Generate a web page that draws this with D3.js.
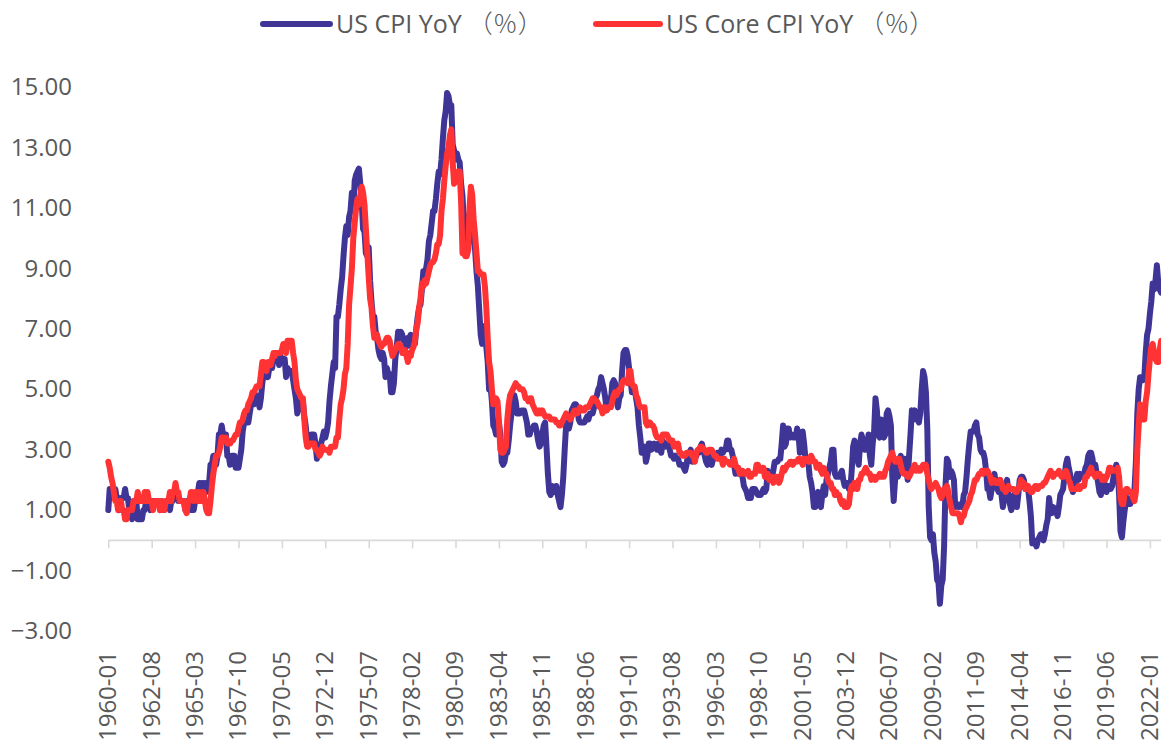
<!DOCTYPE html>
<html>
<head>
<meta charset="utf-8">
<script src="https://cdn.jsdelivr.net/npm/d3@7"></script>
<style>
  html, body { margin: 0; padding: 0; background: #ffffff; }
  svg { display: block; }
  text { font-family: "Open Sans", "Noto Sans", "Noto Sans CJK SC", sans-serif; fill: #595959; }
</style>
</head>
<body>
<svg id="chart" width="1161" height="746"></svg>
<script>
// Monthly series, January 1960 onward (year-over-year change, %)
const startYear = 1960;

const cpiYoY = [
  1.0,1.7,1.7,1.7,1.7,1.7,1.4,1.4,1.0,1.4,1.4,1.4,          // 1960
  1.7,1.4,1.4,1.0,1.0,0.7,1.3,1.0,1.3,0.7,0.7,0.7,          // 1961
  0.7,1.0,1.0,1.3,1.3,1.3,1.0,1.3,1.3,1.3,1.3,1.3,          // 1962
  1.3,1.0,1.3,1.0,1.0,1.3,1.3,1.3,1.0,1.3,1.3,1.6,          // 1963
  1.6,1.6,1.3,1.3,1.3,1.3,1.3,1.0,1.3,1.0,1.3,1.0,          // 1964
  1.0,1.0,1.3,1.6,1.6,1.9,1.6,1.9,1.6,1.9,1.6,1.9,          // 1965
  1.9,2.5,2.5,2.8,2.8,2.5,2.8,3.5,3.5,3.8,3.5,3.5,          // 1966
  3.5,2.8,2.8,2.5,2.8,2.8,2.8,2.4,2.7,2.4,2.7,3.0,          // 1967
  3.6,3.9,3.9,3.9,3.9,4.2,4.5,4.5,4.5,4.8,4.8,4.7,          // 1968
  4.4,4.7,5.2,5.5,5.5,5.5,5.4,5.7,5.7,5.7,6.0,6.2,          // 1969
  6.2,6.1,5.8,6.1,6.0,6.0,6.0,5.4,5.7,5.6,5.6,5.6,          // 1970
  5.3,5.0,4.7,4.2,4.4,4.6,4.4,4.6,4.1,3.8,3.3,3.3,          // 1971
  3.3,3.5,3.5,3.5,3.2,2.7,2.9,2.9,3.2,3.4,3.6,3.4,          // 1972
  3.6,3.9,4.6,5.1,5.5,5.9,5.7,7.4,7.4,7.8,8.3,8.7,          // 1973
  9.4,10.0,10.4,10.1,10.7,10.9,11.5,10.9,11.9,12.1,12.2,12.3, // 1974
  11.8,11.2,10.3,10.2,9.5,9.4,9.7,8.6,7.9,7.4,7.4,6.9,      // 1975
  6.7,6.3,6.1,6.0,6.2,6.0,5.4,5.7,5.5,5.5,4.9,4.9,          // 1976
  5.2,6.0,6.4,6.9,6.7,6.9,6.8,6.6,6.6,6.4,6.7,6.7,          // 1977
  6.8,6.4,6.6,6.5,7.0,7.4,7.7,7.8,8.3,8.9,8.9,9.0,          // 1978
  9.3,9.9,10.1,10.5,10.9,10.9,11.3,11.8,12.2,12.1,12.6,13.3, // 1979
  13.9,14.2,14.8,14.7,14.4,14.4,13.1,12.9,12.6,12.8,12.6,12.5, // 1980
  11.8,11.4,10.5,10.0,9.8,9.6,10.8,10.8,11.0,10.1,9.6,8.9,  // 1981
  8.4,7.6,6.8,6.5,6.7,7.1,6.4,5.9,5.0,5.1,4.6,3.8,          // 1982
  3.7,3.5,3.6,3.9,3.5,2.6,2.5,2.6,2.9,2.9,3.3,3.8,          // 1983
  4.2,4.6,4.8,4.6,4.2,4.2,4.2,4.3,4.3,4.3,4.1,3.9,          // 1984
  3.5,3.5,3.7,3.7,3.8,3.8,3.6,3.3,3.1,3.2,3.5,3.8,          // 1985
  3.9,3.1,2.2,1.6,1.5,1.8,1.6,1.6,1.8,1.5,1.3,1.1,          // 1986
  1.5,2.1,3.0,3.8,3.9,3.7,3.9,4.3,4.4,4.5,4.5,4.4,          // 1987
  4.0,3.9,3.9,3.9,3.9,4.0,4.1,4.0,4.2,4.2,4.2,4.4,          // 1988
  4.7,4.8,5.0,5.1,5.4,5.2,5.0,4.7,4.3,4.5,4.7,4.6,          // 1989
  5.2,5.3,5.2,4.7,4.4,4.7,4.8,5.6,6.2,6.3,6.3,6.1,          // 1990
  5.7,5.3,4.9,4.9,5.0,4.7,4.4,3.8,3.4,2.9,3.0,3.1,          // 1991
  2.6,2.8,3.2,3.2,3.0,3.1,3.2,3.1,3.0,3.2,3.0,2.9,          // 1992
  3.3,3.2,3.1,3.2,3.2,3.0,2.8,2.8,2.7,2.8,2.7,2.7,          // 1993
  2.5,2.5,2.5,2.4,2.3,2.5,2.8,2.9,3.0,2.6,2.7,2.7,          // 1994
  2.8,2.9,2.9,3.1,3.2,3.0,2.8,2.6,2.5,2.8,2.6,2.5,          // 1995
  2.7,2.7,2.8,2.9,2.9,2.8,3.0,2.9,3.0,3.0,3.3,3.3,          // 1996
  3.0,3.0,2.8,2.5,2.2,2.3,2.2,2.2,2.2,2.1,1.8,1.7,          // 1997
  1.6,1.4,1.4,1.4,1.7,1.7,1.7,1.6,1.5,1.5,1.5,1.6,          // 1998
  1.7,1.6,1.7,2.3,2.1,2.0,2.1,2.3,2.6,2.6,2.6,2.7,          // 1999
  2.7,3.2,3.8,3.1,3.2,3.7,3.7,3.4,3.5,3.4,3.4,3.4,          // 2000
  3.7,3.5,2.9,3.3,3.6,3.2,2.7,2.7,2.6,2.1,1.9,1.6,          // 2001
  1.1,1.1,1.5,1.6,1.2,1.1,1.5,1.8,1.5,2.0,2.2,2.4,          // 2002
  2.6,3.0,3.0,2.2,2.1,2.1,2.1,2.2,2.3,2.0,1.8,1.9,          // 2003
  1.9,1.7,1.7,2.3,3.1,3.3,3.0,2.7,2.5,3.2,3.5,3.3,          // 2004
  3.0,3.0,3.1,3.5,2.8,2.5,3.2,3.6,4.7,4.3,3.5,3.4,          // 2005
  4.0,3.6,3.4,3.5,4.2,4.3,4.1,3.8,2.1,1.3,2.0,2.5,          // 2006
  2.1,2.4,2.8,2.6,2.7,2.7,2.4,2.0,2.8,3.5,4.3,4.1,          // 2007
  4.3,4.0,4.0,3.9,4.2,5.0,5.6,5.4,4.9,3.7,1.1,0.1,          // 2008
  0.0,0.2,-0.4,-0.7,-1.3,-1.4,-2.1,-1.5,-1.3,-0.2,1.8,2.7,  // 2009
  2.6,2.1,2.3,2.2,2.0,1.1,1.2,1.1,1.1,1.2,1.1,1.5,          // 2010
  1.6,2.1,2.7,3.2,3.6,3.6,3.6,3.8,3.9,3.5,3.4,3.0,          // 2011
  2.9,2.9,2.7,2.3,1.7,1.7,1.4,1.7,2.0,2.2,1.8,1.7,          // 2012
  1.6,2.0,1.5,1.1,1.4,1.8,2.0,1.5,1.2,1.0,1.2,1.5,          // 2013
  1.6,1.1,1.5,2.0,2.1,2.1,2.0,1.7,1.7,1.7,1.3,0.8,          // 2014
  -0.1,0.0,-0.1,-0.2,0.0,0.1,0.2,0.2,0.0,0.2,0.5,0.7,       // 2015
  1.4,1.0,0.9,1.1,1.0,1.0,0.8,1.1,1.5,1.6,1.7,2.1,          // 2016
  2.5,2.7,2.4,2.2,1.9,1.6,1.7,1.9,2.2,2.0,2.2,2.1,          // 2017
  2.1,2.2,2.4,2.5,2.8,2.9,2.9,2.7,2.3,2.5,2.2,1.9,          // 2018
  1.6,1.5,1.9,2.0,1.8,1.6,1.8,1.7,1.7,1.8,2.1,2.3,          // 2019
  2.5,2.3,1.5,0.3,0.1,0.6,1.0,1.3,1.4,1.2,1.2,1.4,          // 2020
  1.4,1.7,2.6,4.2,5.0,5.4,5.4,5.3,5.4,6.2,6.8,7.0,          // 2021
  7.5,7.9,8.5,8.3,8.6,9.1,8.5,8.3,8.2                       // 2022
];

const coreYoY = [
  2.6,2.4,2.1,1.9,1.6,1.3,1.3,1.0,1.3,1.3,1.0,1.0,          // 1960
  0.7,0.7,1.0,1.0,1.0,1.0,1.3,1.3,1.3,1.6,1.3,1.3,          // 1961
  1.3,1.3,1.6,1.3,1.6,1.3,1.3,1.3,1.0,1.3,1.3,1.3,          // 1962
  1.3,1.0,1.3,1.0,1.0,1.3,1.3,1.3,1.6,1.3,1.6,1.6,          // 1963
  1.9,1.6,1.6,1.3,1.3,1.3,1.3,1.0,0.9,1.3,1.3,1.6,          // 1964
  1.6,1.3,1.6,1.6,1.3,1.6,1.3,1.6,1.6,1.3,1.0,0.9,          // 1965
  0.9,1.3,1.8,2.2,2.5,2.8,2.8,2.9,3.1,3.4,3.4,3.3,          // 1966
  3.4,3.2,3.2,3.2,3.3,3.3,3.4,3.5,3.5,3.7,3.9,3.9,          // 1967
  4.0,4.2,4.3,4.3,4.5,4.6,4.7,4.9,4.9,5.0,5.1,5.1,          // 1968
  5.1,5.5,5.9,5.9,5.8,5.6,5.9,5.9,5.8,6.0,6.2,6.1,          // 1969
  6.2,6.2,6.2,6.2,6.3,6.5,6.5,6.2,6.6,6.6,6.6,6.6,          // 1970
  6.2,5.9,5.3,5.0,4.9,4.8,4.7,4.7,4.0,3.4,3.1,3.1,          // 1971
  3.2,3.2,3.2,3.2,3.0,3.0,2.9,2.8,2.9,3.1,3.0,3.0,          // 1972
  3.0,3.0,2.9,3.1,3.1,3.1,3.1,3.4,3.4,4.0,4.5,4.7,          // 1973
  5.0,5.5,5.7,6.5,7.8,8.4,9.0,10.0,10.5,11.0,11.3,11.1,     // 1974
  11.4,11.7,11.5,11.1,10.3,9.5,8.7,8.0,7.7,7.1,6.7,6.7,     // 1975
  6.8,6.6,6.5,6.4,6.5,6.5,6.6,6.7,6.7,6.6,6.3,6.1,          // 1976
  6.2,6.3,6.4,6.5,6.5,6.4,6.2,6.3,6.3,6.1,5.9,6.2,          // 1977
  6.1,6.3,6.4,6.6,7.0,7.2,7.7,8.0,8.5,8.4,8.6,8.5,          // 1978
  8.7,8.9,9.1,9.2,9.2,9.3,9.5,9.8,9.8,10.1,10.9,11.3,       // 1979
  11.9,12.4,12.8,13.0,13.4,13.6,12.5,11.8,11.9,12.0,12.2,12.2, // 1980
  11.2,9.5,9.5,9.4,9.4,9.6,11.0,11.7,11.4,10.6,10.1,9.5,    // 1981
  8.9,8.9,8.8,8.8,8.8,8.4,7.7,6.7,5.9,5.6,5.0,4.5,          // 1982
  4.7,4.7,4.6,4.0,3.0,2.9,2.9,3.0,3.1,4.0,4.5,4.8,          // 1983
  4.9,5.0,5.1,5.2,5.1,5.1,5.0,5.0,5.0,4.9,4.7,4.7,          // 1984
  4.6,4.7,4.7,4.5,4.4,4.3,4.2,4.2,4.3,4.2,4.3,4.2,          // 1985
  4.1,4.1,4.1,4.1,4.0,4.0,4.0,4.0,3.9,3.9,3.8,3.8,          // 1986
  3.9,4.0,4.1,4.2,4.1,4.1,4.0,4.1,4.2,4.3,4.3,4.2,          // 1987
  4.3,4.4,4.3,4.3,4.3,4.4,4.4,4.4,4.5,4.6,4.7,4.7,          // 1988
  4.6,4.6,4.5,4.4,4.4,4.2,4.4,4.4,4.3,4.4,4.4,4.4,          // 1989
  4.6,4.8,4.9,4.8,4.9,5.0,5.0,5.2,5.3,5.3,5.3,5.2,          // 1990
  5.6,5.6,5.2,5.1,5.1,4.8,4.7,4.5,4.4,4.4,4.4,4.4,          // 1991
  3.9,3.8,3.9,3.9,3.8,3.8,3.7,3.5,3.4,3.4,3.4,3.3,          // 1992
  3.5,3.5,3.5,3.5,3.4,3.3,3.3,3.3,3.1,3.2,3.1,3.2,          // 1993
  2.9,2.9,2.8,2.8,2.8,2.9,2.9,2.9,2.9,2.8,2.8,2.6,          // 1994
  2.9,3.0,3.0,3.1,3.1,3.0,3.0,2.9,2.9,3.0,3.0,3.0,          // 1995
  2.9,2.8,2.8,2.7,2.7,2.7,2.7,2.5,2.7,2.6,2.6,2.6,          // 1996
  2.5,2.5,2.5,2.7,2.5,2.4,2.4,2.2,2.2,2.3,2.2,2.2,          // 1997
  2.2,2.3,2.1,2.1,2.2,2.2,2.2,2.5,2.5,2.3,2.3,2.4,          // 1998
  2.4,2.1,2.1,2.2,2.0,2.1,2.1,1.9,2.0,2.1,2.1,1.9,          // 1999
  2.0,2.2,2.4,2.3,2.4,2.5,2.5,2.6,2.6,2.5,2.6,2.6,          // 2000
  2.6,2.7,2.7,2.6,2.5,2.7,2.7,2.7,2.6,2.6,2.8,2.7,          // 2001
  2.6,2.6,2.4,2.5,2.5,2.3,2.2,2.4,2.2,2.2,2.0,1.9,          // 2002
  1.9,1.7,1.7,1.5,1.6,1.5,1.5,1.3,1.2,1.3,1.1,1.1,          // 2003
  1.1,1.2,1.6,1.8,1.7,1.9,1.8,1.7,2.0,2.0,2.2,2.2,          // 2004
  2.3,2.4,2.3,2.2,2.2,2.0,2.1,2.1,2.0,2.1,2.1,2.2,          // 2005
  2.1,2.1,2.1,2.3,2.4,2.6,2.7,2.8,2.9,2.7,2.6,2.6,          // 2006
  2.7,2.7,2.5,2.3,2.2,2.2,2.2,2.1,2.1,2.2,2.3,2.4,          // 2007
  2.5,2.3,2.4,2.3,2.3,2.4,2.5,2.5,2.5,2.2,2.0,1.8,          // 2008
  1.7,1.8,1.8,1.9,1.8,1.7,1.5,1.4,1.5,1.7,1.7,1.8,          // 2009
  1.6,1.3,1.1,0.9,0.9,0.9,0.9,0.9,0.8,0.6,0.8,0.8,          // 2010
  1.0,1.1,1.2,1.3,1.5,1.6,1.8,2.0,2.0,2.1,2.2,2.2,          // 2011
  2.3,2.2,2.3,2.3,2.3,2.2,2.1,1.9,2.0,2.0,1.9,1.9,          // 2012
  1.9,2.0,1.9,1.7,1.7,1.6,1.7,1.8,1.7,1.7,1.7,1.7,          // 2013
  1.6,1.6,1.7,1.8,2.0,1.9,1.9,1.7,1.7,1.8,1.7,1.6,          // 2014
  1.6,1.7,1.8,1.8,1.7,1.8,1.8,1.8,1.9,1.9,2.0,2.1,          // 2015
  2.2,2.3,2.2,2.1,2.2,2.2,2.2,2.3,2.2,2.1,2.1,2.2,          // 2016
  2.3,2.2,2.0,1.9,1.7,1.7,1.7,1.7,1.7,1.8,1.7,1.8,          // 2017
  1.8,1.8,2.1,2.1,2.2,2.3,2.4,2.2,2.2,2.1,2.2,2.2,          // 2018
  2.2,2.1,2.0,2.1,2.0,2.1,2.2,2.4,2.4,2.3,2.3,2.3,          // 2019
  2.3,2.4,2.1,1.4,1.2,1.2,1.6,1.7,1.7,1.6,1.6,1.6,          // 2020
  1.4,1.3,1.6,3.0,3.8,4.5,4.3,4.0,4.0,4.6,4.9,5.5,          // 2021
  6.0,6.4,6.5,6.2,6.0,5.9,5.9,6.3,6.6                       // 2022
];

// Category labels "YYYY-MM", one per month
const months = cpiYoY.map((_, i) => {
  const y = startYear + Math.floor(i / 12);
  const m = (i % 12) + 1;
  return y + "-" + String(m).padStart(2, "0");
});

const xTickLabels = [
  "1960-01","1962-08","1965-03","1967-10","1970-05","1972-12","1975-07",
  "1978-02","1980-09","1983-04","1985-11","1988-06","1991-01","1993-08",
  "1996-03","1998-10","2001-05","2003-12","2006-07","2009-02","2011-09",
  "2014-04","2016-11","2019-06","2022-01"
];
const yTickValues = [-3, -1, 1, 3, 5, 7, 9, 11, 13, 15];

const seriesNames = ["US CPI YoY", "US Core CPI YoY"];
const unitLabel = "（％）";
const seriesColors = ["#3f3596", "#ff3334"];

const svg = d3.select("#chart");
const W = 1161, H = 746;
const FONT = 24;

const x = d3.scalePoint()
  .domain(months)
  .range([108.3, 108.3 + 1.4 * (months.length - 1)]);

const y = d3.scaleLinear().domain([-3, 15]).range([631, 87]);

// Y axis: labels only
const yAxis = d3.axisLeft(y)
  .tickValues(yTickValues)
  .tickFormat(d3.format(".2f"))
  .tickSize(0)
  .tickPadding(0);
const gy = svg.append("g").attr("transform", "translate(72,0)").call(yAxis);
gy.select(".domain").remove();
gy.selectAll("text")
  .attr("font-size", FONT)
  .attr("fill", "#595959")
  .style("font-family", "'Open Sans', sans-serif");

// X axis drawn along the zero line
const xAxis = d3.axisBottom(x)
  .tickValues(xTickLabels)
  .tickSizeInner(8)
  .tickSizeOuter(0)
  .tickPadding(10);
const gx = svg.append("g").attr("transform", `translate(0,${y(0)})`).call(xAxis);
gx.select(".domain")
  .attr("d", `M${x(months[0])},0H${W + 5}`)
  .attr("stroke", "#d9d9d9")
  .attr("stroke-width", 1.6);
gx.selectAll(".tick line").attr("stroke", "#d9d9d9").attr("stroke-width", 1.6);
gx.selectAll(".tick text")
  .attr("font-size", FONT)
  .attr("fill", "#595959")
  .style("font-family", "'Open Sans', sans-serif")
  .attr("text-anchor", "end")
  .attr("dy", "0.35em")
  .attr("transform", `translate(-1,${651 - y(0)}) rotate(-90)`)
  .attr("x", 0)
  .attr("y", 0);

// Series lines
const line = d3.line()
  .x((d, i) => x(months[i]))
  .y(d => y(d))
  .curve(d3.curveLinear);

[cpiYoY, coreYoY].forEach((vals, k) => {
  svg.append("path")
    .datum(vals)
    .attr("fill", "none")
    .attr("stroke", seriesColors[k])
    .attr("stroke-width", 6)
    .attr("stroke-linejoin", "round")
    .attr("stroke-linecap", "round")
    .attr("d", line);
});

// Legend
const legendItems = [
  { x1: 263, x2: 330, tx: 336 },
  { x1: 596, x2: 660, tx: 666 }
];
const lg = svg.append("g");
legendItems.forEach((it, k) => {
  lg.append("line")
    .attr("x1", it.x1).attr("x2", it.x2)
    .attr("y1", 24).attr("y2", 24)
    .attr("stroke", seriesColors[k])
    .attr("stroke-width", 6)
    .attr("stroke-linecap", "round");
  const t = lg.append("text")
    .attr("x", it.tx).attr("y", 24)
    .attr("dy", "0.35em")
    .attr("font-size", 25)
    .attr("fill", "#595959");
  t.append("tspan").text(seriesNames[k]);
  t.append("tspan")
    .attr("dx", 6)
    .style("font-family", "'Noto Sans CJK SC', sans-serif")
    .style("font-weight", 300)
    .text(unitLabel);
});
</script>
</body>
</html>
